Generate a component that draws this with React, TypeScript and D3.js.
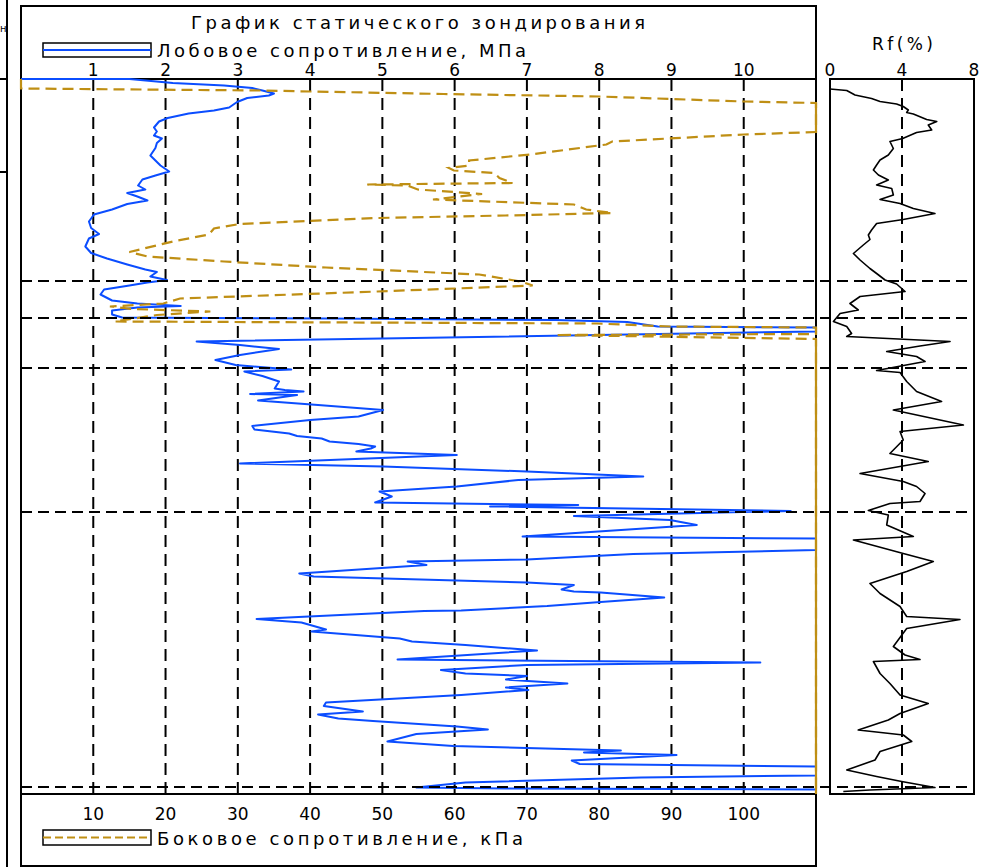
import React from "react";
import * as d3 from "d3";

const TITLE = "График статического зондирования";
const QC_LABEL = "Лобовое сопротивление, МПа";
const FS_LABEL = "Боковое сопротивление, кПа";
const RF_LABEL = "Rf(%)";
const SIDE_LABEL = "н";

const qcTicks = [1, 2, 3, 4, 5, 6, 7, 8, 9, 10];
const fsTicks = [10, 20, 30, 40, 50, 60, 70, 80, 90, 100];
const rfTicks = [0, 4, 8];
const rfGrid = [4];
const layerDepths = [4.04, 4.78, 5.78, 8.66, 14.16];

// [depth (m), cone resistance qc (MPa)]
const qcData: [number, number][] = [
  [0, 0], [0, 1.5], [0.08, 2.1], [0.13, 2.81], [0.18, 3.2], [0.23, 3.34], [0.29, 3.5], [0.33, 3.43],
  [0.38, 3.13], [0.46, 2.99], [0.57, 2.88], [0.63, 2.67], [0.69, 2.32], [0.78, 2.03], [0.85, 1.91],
  [0.97, 1.84], [1.05, 1.88], [1.13, 1.84], [1.19, 1.95], [1.28, 1.88], [1.38, 1.86], [1.53, 1.79],
  [1.63, 1.86], [1.73, 1.93], [1.85, 2.05], [1.93, 1.86], [2.01, 1.68], [2.13, 1.62], [2.21, 1.72],
  [2.28, 1.47], [2.35, 1.61], [2.43, 1.75], [2.5, 1.47], [2.61, 1.26], [2.71, 1.01], [2.85, 0.94],
  [2.98, 0.97], [3.1, 1.08], [3.19, 0.94], [3.35, 0.89], [3.48, 0.97], [3.59, 1.19], [3.71, 1.47],
  [3.81, 1.72], [3.86, 1.88], [3.95, 1.79], [4.02, 2.02], [4.07, 1.75], [4.13, 1.5], [4.21, 1.15],
  [4.31, 1.1], [4.43, 1.26], [4.49, 1.61], [4.54, 2.21], [4.57, 1.61], [4.63, 1.26], [4.71, 1.26],
  [4.77, 1.4], [4.79, 4.22], [4.82, 7.4], [4.86, 8.39], [4.95, 8.81], [4.97, 11.0], [5.0, 12.0],
  [5.05, 11.5], [5.25, 2.43], [5.32, 3.03], [5.4, 3.57], [5.52, 3.03], [5.62, 2.69], [5.72, 2.97],
  [5.81, 3.74], [5.85, 3.09], [5.94, 3.34], [6.05, 3.57], [6.19, 3.51], [6.22, 3.65], [6.25, 3.91],
  [6.3, 3.17], [6.32, 3.82], [6.43, 3.28], [6.52, 4.11], [6.62, 5.01], [6.75, 4.67], [6.82, 4.0],
  [6.94, 3.2], [7.01, 3.23], [7.09, 3.71], [7.14, 3.82], [7.19, 4.16], [7.25, 4.27], [7.3, 4.67],
  [7.35, 4.9], [7.39, 4.84], [7.45, 4.64], [7.52, 6.03], [7.69, 3.03], [7.75, 5.01], [7.85, 7.0],
  [7.95, 8.61], [8.02, 6.88], [8.15, 6.03], [8.25, 4.96], [8.35, 5.13], [8.47, 4.9], [8.52, 7.71],
  [8.55, 6.49], [8.64, 10.65], [8.74, 7.65], [8.82, 8.98], [8.92, 9.35], [9.15, 6.94], [9.19, 11.0],
  [9.3, 12.0], [9.42, 11.0], [9.5, 8.47], [9.61, 7.0], [9.65, 5.35], [9.72, 5.61], [9.89, 3.85],
  [9.95, 4.05], [10.07, 7.0], [10.12, 7.65], [10.21, 7.48], [10.25, 7.65], [10.27, 8.02], [10.37, 8.9],
  [10.46, 8.02], [10.54, 7.28], [10.63, 6.09], [10.64, 5.58], [10.8, 3.26], [10.87, 3.88], [11.01, 4.22],
  [11.05, 4.02], [11.19, 5.24], [11.25, 5.41], [11.32, 6.15], [11.43, 7.14], [11.61, 5.21], [11.67, 10.23],
  [11.72, 7.0], [11.82, 5.81], [11.89, 6.15], [11.94, 7.0], [12.01, 6.71], [12.09, 7.56], [12.17, 6.71],
  [12.22, 7.02], [12.32, 6.09], [12.47, 4.22], [12.54, 4.19], [12.65, 4.73], [12.71, 4.11], [12.79, 4.39],
  [12.84, 4.87], [12.95, 6.03], [13.01, 6.46], [13.1, 5.47], [13.25, 5.07], [13.34, 5.98], [13.42, 8.02],
  [13.43, 8.3], [13.47, 7.79], [13.52, 9.07], [13.63, 7.62], [13.7, 7.73], [13.75, 11.0], [13.84, 12.0],
  [13.93, 11.0], [13.97, 8.58], [14.07, 6.15], [14.17, 5.47], [14.19, 6.71], [14.21, 11.0], [14.26, 12.0],
];

// [depth (m), sleeve friction fs (kPa)]
const fsData: [number, number][] = [
  [0, 0], [0.19, 0], [0.23, 33], [0.3, 58.5], [0.35, 80], [0.45, 100], [0.48, 110], [0.76, 125],
  [1.06, 110], [1.11, 100], [1.25, 81.8], [1.31, 81], [1.51, 70.5], [1.63, 62], [1.73, 62], [1.78, 59.2],
  [1.83, 59.9], [1.88, 65.5], [1.98, 66.2], [2.08, 68], [2.11, 47.9], [2.13, 53.5], [2.21, 54.9],
  [2.3, 63.8], [2.41, 57], [2.51, 76.5], [2.61, 78.2], [2.68, 81.8], [2.73, 67], [2.78, 49.3],
  [2.9, 30.2], [2.99, 26.7], [3.11, 26], [3.25, 21], [3.46, 15], [3.55, 17.5], [3.65, 28.1],
  [3.77, 42.2], [3.91, 63.4], [4.05, 69.1], [4.13, 70.8], [4.25, 49.3], [4.39, 22], [4.49, 19.7],
  [4.55, 12.3], [4.6, 15.5], [4.65, 26.2], [4.72, 18.8], [4.85, 13], [4.89, 79.7], [4.95, 89.8],
  [4.97, 110], [5.03, 118], [5.1, 110], [5.12, 74], [5.2, 110], [9.0, 135], [14.3, 130],
];

// [depth (m), friction ratio Rf (%)]
const rfData: [number, number][] = [
  [0.2, 0], [0.23, 0.93], [0.32, 1.39], [0.39, 2.31], [0.45, 2.78], [0.5, 3.7], [0.55, 4.07], [0.62, 4.35],
  [0.67, 4.26], [0.7, 4.63], [0.81, 5.37], [0.85, 5.93], [0.92, 5.46], [1.02, 5.65], [1.07, 4.81],
  [1.19, 4.04], [1.25, 3.33], [1.39, 3.52], [1.52, 3.24], [1.62, 2.78], [1.72, 2.59], [1.82, 2.41],
  [1.92, 2.69], [2.02, 3.24], [2.12, 2.59], [2.19, 3.43], [2.32, 3.52], [2.41, 2.78], [2.49, 3.89],
  [2.59, 4.63], [2.69, 5.83], [2.81, 4.07], [2.89, 2.59], [3.02, 2.31], [3.12, 2.13], [3.21, 2.22],
  [3.32, 1.85], [3.49, 1.3], [3.62, 1.67], [3.79, 2.22], [3.89, 2.59], [4.02, 3.06], [4.1, 3.7],
  [4.25, 4.17], [4.35, 1.67], [4.49, 1.11], [4.62, 1.57], [4.69, 0.56], [4.85, 0.19], [4.95, 0.93],
  [5.09, 1.2], [5.15, 0.93], [5.25, 6.67], [5.34, 5.0], [5.45, 3.15], [5.55, 4.81], [5.65, 5.28],
  [5.83, 2.59], [5.87, 3.89], [6.05, 4.26], [6.25, 4.81], [6.45, 6.2], [6.62, 3.52], [6.92, 7.41],
  [7.05, 3.89], [7.22, 4.07], [7.49, 3.33], [7.65, 5.46], [7.89, 1.67], [8.05, 4.07], [8.15, 4.81],
  [8.29, 5.28], [8.45, 5.0], [8.49, 3.33], [8.63, 2.13], [8.72, 3.24], [8.92, 3.15], [9.15, 4.63],
  [9.22, 1.3], [9.49, 4.07], [9.65, 5.74], [9.85, 4.26], [10.09, 2.22], [10.29, 2.78], [10.55, 3.89],
  [10.75, 4.26], [10.81, 7.22], [10.99, 4.26], [11.35, 3.52], [11.52, 4.17], [11.61, 5.0], [11.65, 2.41],
  [11.89, 2.78], [12.09, 3.33], [12.32, 3.89], [12.49, 5.46], [12.69, 3.89], [12.82, 3.24], [13.02, 1.57],
  [13.12, 4.07], [13.25, 4.54], [13.45, 2.78], [13.62, 2.5], [13.82, 0.93], [13.95, 2.59], [14.05, 3.98],
  [14.17, 5.83], [14.22, 2.22], [14.25, 0.74],
];

const W = 992;
const H = 867;
const FONT = "DejaVu Sans, sans-serif";
const BLUE = "#0B4DFF";
const GOLD = "#BF8F14";

export default function App() {
  const plotTop = 79;
  const plotBottom = 794;
  const mainLeft = 21;
  const mainRight = 816;
  const rfLeft = 830;
  const rfRight = 974;

  const y = d3.scaleLinear().domain([0, 14.3]).range([plotTop, plotBottom]);
  const xQc = d3.scaleLinear().domain([0, 11]).range([mainLeft, mainRight]);
  const xFs = d3.scaleLinear().domain([0, 110]).range([mainLeft, mainRight]);
  const xRf = d3.scaleLinear().domain([0, 8]).range([rfLeft, rfRight]);

  const qcMax = 11;
  const fsMax = 110;

  const qcLine = d3
    .line<[number, number]>()
    .x((d) => xQc(Math.min(d[1], qcMax)))
    .y((d) => y(d[0]));
  const fsLine = d3
    .line<[number, number]>()
    .x((d) => xFs(Math.min(d[1], fsMax)))
    .y((d) => y(d[0]));
  const fsEdge = d3
    .line<[number, number]>()
    .defined((d) => d[1] >= fsMax)
    .x((d) => xFs(Math.min(d[1], fsMax)))
    .y((d) => y(d[0]));
  const rfLine = d3
    .line<[number, number]>()
    .x((d) => xRf(d[1]))
    .y((d) => y(d[0]));

  return (
    <svg
      width={W}
      height={H}
      viewBox={`0 0 ${W} ${H}`}
      style={{ position: "absolute", left: 0, top: 0, display: "block", background: "#fff" }}
      fontFamily={FONT}
    >
      <rect x={0} y={0} width={W} height={H} fill="#fff" />

      {/* left neighbouring strip */}
      <line x1={7} y1={0} x2={7} y2={H} stroke="#000" strokeWidth={2} />
      <line x1={0} y1={plotTop} x2={7} y2={plotTop} stroke="#000" strokeWidth={2} />
      <line x1={0} y1={172} x2={7} y2={172} stroke="#000" strokeWidth={2} />
      <text x={0} y={32} fontSize={10} textAnchor="start" fill="#000">{SIDE_LABEL}</text>

      {/* vertical grid */}
      {qcTicks.map((t) => (
        <line key={"g" + t} x1={xQc(t)} x2={xQc(t)} y1={plotTop} y2={plotBottom}
          stroke="#000" strokeWidth={2} strokeDasharray="12,7" />
      ))}
      {rfGrid.map((t) => (
        <line key={"rg" + t} x1={xRf(t)} x2={xRf(t)} y1={plotTop} y2={plotBottom}
          stroke="#000" strokeWidth={2} strokeDasharray="12,7" />
      ))}

      {/* main frame */}
      <rect x={mainLeft} y={6} width={mainRight - mainLeft} height={866 - 6} fill="none" stroke="#000" strokeWidth={2} />
      <line x1={mainLeft} x2={mainRight} y1={plotTop} y2={plotTop} stroke="#000" strokeWidth={2} />
      <line x1={mainLeft} x2={mainRight} y1={plotBottom} y2={plotBottom} stroke="#000" strokeWidth={2} />

      {/* Rf frame */}
      <rect x={rfLeft} y={plotTop} width={rfRight - rfLeft} height={plotBottom - plotTop} fill="none" stroke="#000" strokeWidth={2} />

      {/* curves */}
      <path d={qcLine(qcData) || ""} fill="none" stroke={BLUE} strokeWidth={2} strokeLinejoin="round" />
      <path d={fsLine(fsData) || ""} fill="none" stroke={GOLD} strokeWidth={2.2} strokeDasharray="11,6" />
      <path d={fsEdge(fsData) || ""} fill="none" stroke={GOLD} strokeWidth={2.2} />
      <path d={rfLine(rfData) || ""} fill="none" stroke="#000" strokeWidth={1.6} strokeLinejoin="round" />

      {/* layer boundaries */}
      {layerDepths.map((d) => (
        <line key={"l" + d} x1={mainLeft} x2={rfRight} y1={y(d)} y2={y(d)}
          stroke="#000" strokeWidth={2} strokeDasharray="11,6" />
      ))}

      {/* titles */}
      <text x={191} y={29} fontSize={18} textLength={454} lengthAdjust="spacing" fill="#000">{TITLE}</text>

      {/* legend qc */}
      <rect x={43} y={43} width={108} height={14} fill="none" stroke="#000" strokeWidth={1.5} />
      <line x1={43} x2={151} y1={50} y2={50} stroke={BLUE} strokeWidth={2} />
      <text x={157} y={57} fontSize={18} textLength={369} lengthAdjust="spacing" fill="#000">{QC_LABEL}</text>

      {/* top ticks */}
      {qcTicks.map((t) => (
        <text key={"tq" + t} x={xQc(t)} y={76} fontSize={17} textAnchor="middle" fill="#000">{t}</text>
      ))}

      {/* bottom ticks */}
      {fsTicks.map((t) => (
        <text key={"tf" + t} x={xFs(t)} y={820} fontSize={17} textAnchor="middle" fill="#000">{t}</text>
      ))}

      {/* legend fs */}
      <rect x={43} y={830} width={108} height={15} fill="none" stroke="#000" strokeWidth={1.5} />
      <line x1={43} x2={151} y1={837.5} y2={837.5} stroke={GOLD} strokeWidth={2} strokeDasharray="8,4" />
      <text x={157} y={845} fontSize={18} textLength={366} lengthAdjust="spacing" fill="#000">{FS_LABEL}</text>

      {/* Rf axis */}
      <text x={872} y={50} fontSize={17} textLength={61} lengthAdjust="spacing" fill="#000">{RF_LABEL}</text>
      {rfTicks.map((t) => (
        <text key={"tr" + t} x={xRf(t)} y={76} fontSize={17} textAnchor="middle" fill="#000">{t}</text>
      ))}
    </svg>
  );
}
